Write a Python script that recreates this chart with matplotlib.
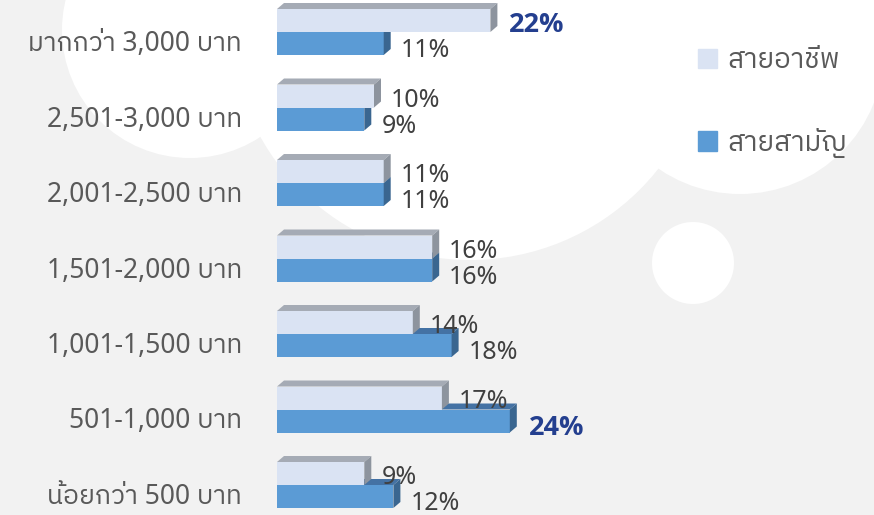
import numpy as np
import matplotlib
matplotlib.use("Agg")
import matplotlib.pyplot as plt
from matplotlib.patches import Polygon, Circle, Patch

# data (top group first)
categories = ["มากกว่า 3,000 บาท", "2,501-3,000 บาท", "2,001-2,500 บาท", "1,501-2,000 บาท",
              "1,001-1,500 บาท", "501-1,000 บาท", "น้อยกว่า 500 บาท"]
vocational = [22, 10, 11, 16, 14, 17, 9]     # สายอาชีพ
general = [11, 9, 11, 16, 18, 24, 12]        # สายสามัญ
series_names = ["สายอาชีพ", "สายสามัญ"]

# latin/digits from Noto Sans, thai glyphs from a thai family
plt.rcParams["font.family"] = ["Noto Sans", "IBM Plex Sans Thai", "DejaVu Sans"]

W, H = 874, 515
fig = plt.figure(figsize=(W / 100, H / 100), dpi=100)
fig.patch.set_facecolor("#f2f2f2")

# background clouds in pixel coords
bg = fig.add_axes([0, 0, 1, 1])
bg.set_xlim(0, W)
bg.set_ylim(H, 0)
bg.axis("off")
for cx, cy, r in [(190, 30, 128), (470, 20, 240), (740, 50, 144), (693, 263, 41)]:
    bg.add_patch(Circle((cx, cy), r, color="white", lw=0))

# chart axes: x in percent, 9.7 px per percent, 0 at px 277
ppx = 9.7
ax = fig.add_axes([0, 0, 1, 1])
ax.set_facecolor("none")
ax.set_xlim(-277 / ppx, (W - 277) / ppx)
gap = 75.5
ax.set_ylim(-(H - 485) / gap, 6 + 32 / gap)
ax.axis("off")

n = len(categories)
ypos = np.arange(n)[::-1].astype(float)
h = 23 / gap
dx = 7 / ppx
dy = 6 / gap

def bar3d(y0, v, front, top, side):
    ax.barh(y0, v, height=h, align="edge", color=front, lw=0, zorder=3)
    y1 = y0 + h
    ax.add_patch(Polygon([(0, y1), (v, y1), (v + dx, y1 + dy), (dx, y1 + dy)],
                         closed=True, color=top, lw=0, zorder=3))
    ax.add_patch(Polygon([(v, y0), (v + dx, y0 + dy), (v + dx, y1 + dy), (v, y1)],
                         closed=True, color=side, lw=0, zorder=3))

for i in range(n):
    bar3d(ypos[i] - h, general[i], "#5b9bd5", "#4472a4", "#3a6690")
    bar3d(ypos[i], vocational[i], "#dae3f3", "#a5abb5", "#8d949e")

vmax_v = max(vocational)
vmax_g = max(general)
for i in range(n):
    ax.text(-35 / ppx, ypos[i] - 12 / gap, categories[i], ha="right", va="center",
            fontsize=19, color="#595959")
    for v, vmax, yc in [(vocational[i], vmax_v, ypos[i] + h / 2 - 4 / gap),
                        (general[i], vmax_g, ypos[i] - h / 2 - 7 / gap)]:
        if v == vmax:
            ax.text(v + dx + 12 / ppx, yc, f"{v}%", ha="left", va="center", fontsize=19.5,
                    fontweight="bold", color="#243f8f",
                    family=["Open Sans", "Lato", "DejaVu Sans"])
        else:
            ax.text(v + dx + 10 / ppx, yc, f"{v}%", ha="left", va="center", fontsize=18,
                    color="#404040")

handles = [Patch(color="#dae3f3"), Patch(color="#5b9bd5")]
fig.legend(handles, series_names, loc="upper left", bbox_to_anchor=(673 / W, 1 - 22 / H),
           frameon=False, fontsize=20, labelcolor="#595959", handlelength=0.7,
           handleheight=0.7, labelspacing=1.9, handletextpad=0.35)

fig.savefig("out.png", dpi=100, facecolor=fig.get_facecolor())
